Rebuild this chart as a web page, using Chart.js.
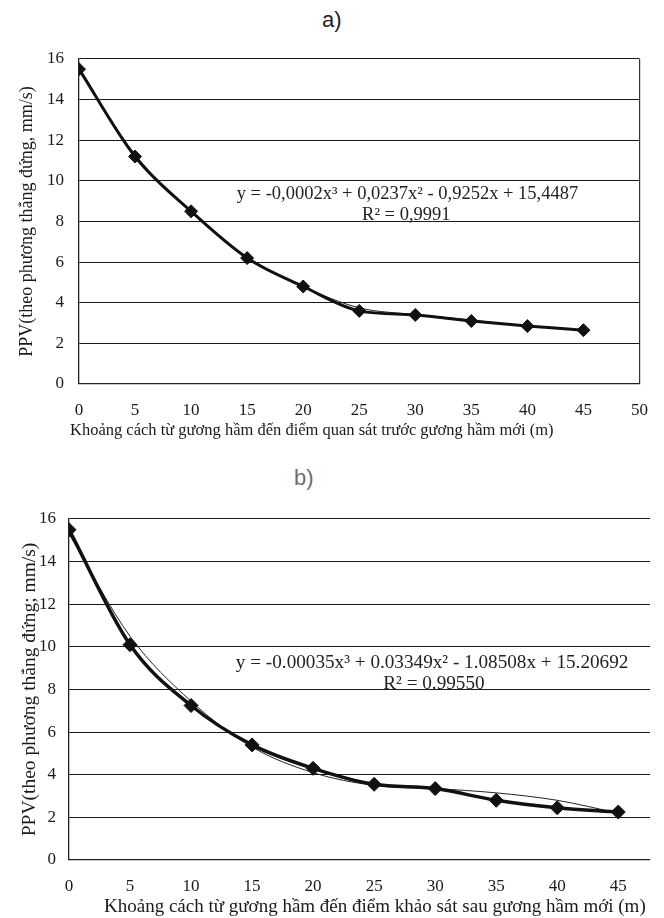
<!DOCTYPE html>
<html>
<head>
<meta charset="utf-8">
<script src="https://cdn.jsdelivr.net/npm/chart.js@4.4.0/dist/chart.umd.min.js"></script>
<style>
  html, body { margin: 0; padding: 0; background: #ffffff; }
  body { width: 664px; height: 918px; position: relative; overflow: hidden; }
  .lbl { position: absolute; font-family: "Liberation Sans", Arial, sans-serif; font-size: 22px; line-height: 24px; }
  .xt { position: absolute; font-family: "Liberation Serif", "Times New Roman", serif; white-space: nowrap; color: #1a1a1a; line-height: 1; }
  canvas { position: absolute; left: 0; }
</style>
</head>
<body>
<div class="lbl" style="left:322px; top:8px; color:#1e1e1e;">a)</div>
<div class="lbl" style="left:294px; top:466px; color:#6e6e6e;">b)</div>
<canvas id="chartA" width="664" height="430" style="top:30px;"></canvas>
<canvas id="chartB" width="664" height="428" style="top:490px;"></canvas>
<div class="xt" id="xtA" style="left:70px; top:422px; font-size:16.5px;">Khoảng cách từ gương hầm đến điểm quan sát trước gương hầm mới (m)</div>
<div class="xt" id="xtB" style="left:104px; top:896px; font-size:19px;">Khoảng cách từ gương hầm đến điểm khảo sát sau gương hầm mới (m)</div>
<script>
// ---- Data ----
const distA = [0, 5, 10, 15, 20, 25, 30, 35, 40, 45];
const ppvA = [15.5, 11.2, 8.5, 6.2, 4.8, 3.6, 3.4, 3.1, 2.85, 2.65];
const trendA = [15.45, 11.3, 8.45, 6.25, 4.8, 3.75, 3.42, 3.15, 2.85, 2.65];
const xTicksA = [0, 5, 10, 15, 20, 25, 30, 35, 40, 45, 50];

const distB = [0, 5, 10, 15, 20, 25, 30, 35, 40, 45];
const ppvB = [15.5, 10.1, 7.25, 5.4, 4.3, 3.55, 3.35, 2.8, 2.45, 2.25];
const trendB = [15.3, 10.5, 7.45, 5.3, 4.1, 3.5, 3.35, 3.15, 2.8, 2.2];
const xTicksB = [0, 5, 10, 15, 20, 25, 30, 35, 40, 45];

const yTicks = [0, 2, 4, 6, 8, 10, 12, 14, 16];

const eqA = ["y = -0,0002x³ + 0,0237x² - 0,9252x + 15,4487", "R² = 0,9991"];
const eqB = ["y = -0.00035x³ + 0.03349x² - 1.08508x + 15.20692", "R² = 0.99550"];

const yTitleA = "PPV(theo phương thẳng đứng, mm/s)";
const yTitleB = "PPV(theo phương thẳng đứng; mm/s)";

// ---- helpers ----
const SERIF = '"Liberation Serif", "Times New Roman", serif';
const pts = (xs, ys) => xs.map((x, i) => ({ x: x, y: ys[i] }));

const eqPlugin = {
  id: 'eqText',
  afterDatasetsDraw(chart, args, opts) {
    const { ctx, scales } = chart;
    ctx.save();
    ctx.font = opts.font;
    ctx.fillStyle = opts.color || '#222';
    ctx.textAlign = 'center';
    ctx.textBaseline = 'middle';
    opts.lines.forEach(l => {
      ctx.fillText(l.text, scales.x.getPixelForValue(l.x), scales.y.getPixelForValue(l.y));
    });
    ctx.restore();
  }
};

function makeChart(id, cfg) {
  return new Chart(document.getElementById(id), {
    type: 'line',
    data: {
      datasets: [
        {
          label: 'PPV',
          data: pts(cfg.dist, cfg.ppv),
          borderColor: '#111',
          backgroundColor: '#111',
          borderWidth: cfg.lineW,
          tension: 0.35,
          cubicInterpolationMode: 'monotone',
          pointStyle: 'rectRot',
          pointRadius: cfg.pointR,
          pointBorderWidth: 1,
          pointBorderColor: '#111',
          pointBackgroundColor: '#111',
          order: 1
        },
        {
          label: 'Trend',
          data: pts(cfg.dist, cfg.trend),
          borderColor: '#222',
          borderWidth: 1,
          tension: 0.4,
          cubicInterpolationMode: 'monotone',
          pointRadius: 0,
          order: 2
        }
      ]
    },
    options: {
      responsive: false,
      animation: false,
      events: [],
      layout: { padding: cfg.pad },
      plugins: {
        legend: { display: false },
        tooltip: { enabled: false },
        eqText: { font: cfg.eqFont, color: '#222', lines: cfg.eqLines }
      },
      scales: {
        x: {
          type: 'linear',
          min: 0,
          max: cfg.xMax,
          afterBuildTicks: s => { s.ticks = cfg.xTicks.map(v => ({ value: v })); },
          afterFit: s => { s.height = cfg.xH; },
          ticks: {
            font: { family: SERIF, size: cfg.tickSize },
            color: '#1a1a1a',
            padding: cfg.xTickPad,
            maxRotation: 0,
            autoSkip: false
          },
          grid: {
            drawTicks: false,
            lineWidth: 1.2,
            color: c => (cfg.rightLine && c.tick && c.tick.value === cfg.xMax) ? '#333' : 'rgba(0,0,0,0)'
          },
          border: { display: true, color: '#222', width: 1.2 }
        },
        y: {
          type: 'linear',
          min: 0,
          max: 16,
          afterBuildTicks: s => { s.ticks = yTicks.map(v => ({ value: v })); },
          afterFit: s => { s.width = cfg.yW; },
          ticks: {
            font: { family: SERIF, size: cfg.tickSize },
            color: '#1a1a1a',
            padding: cfg.yTickPad
          },
          grid: { drawTicks: false, color: '#1a1a1a', lineWidth: 1.1 },
          border: { display: true, color: '#222', width: 1.3 },
          title: {
            display: true,
            text: cfg.yTitle,
            font: { family: SERIF, size: cfg.yTitleSize },
            color: '#1a1a1a',
            padding: { top: cfg.yTitlePad, bottom: 0 }
          }
        }
      }
    },
    plugins: [eqPlugin]
  });
}

makeChart('chartA', {
  dist: distA, ppv: ppvA, trend: trendA, xTicks: xTicksA, xMax: 50,
  lineW: 3, pointR: 6.5, rightLine: true,
  pad: { top: 29, right: 21, bottom: 14, left: 0 },
  xH: 62, yW: 79, tickSize: 17, xTickPad: 16, yTickPad: 15,
  yTitle: yTitleA, yTitleSize: 18, yTitlePad: 16,
  eqFont: '18.5px ' + SERIF,
  eqLines: [ { text: eqA[0], x: 29.3, y: 9.37 }, { text: eqA[1], x: 29.2, y: 8.3 } ]
});

makeChart('chartB', {
  dist: distB, ppv: ppvB, trend: trendB, xTicks: xTicksB, xMax: 47.6,
  lineW: 3.5, pointR: 7, rightLine: false,
  pad: { top: 29, right: 14, bottom: 2, left: 0 },
  xH: 56, yW: 69, tickSize: 17, xTickPad: 16, yTickPad: 13,
  yTitle: yTitleB, yTitleSize: 19.5, yTitlePad: 18,
  eqFont: '19.2px ' + SERIF,
  eqLines: [ { text: eqB[0], x: 29.75, y: 9.24 }, { text: eqB[1], x: 29.9, y: 8.26 } ]
});
</script>
</body>
</html>
